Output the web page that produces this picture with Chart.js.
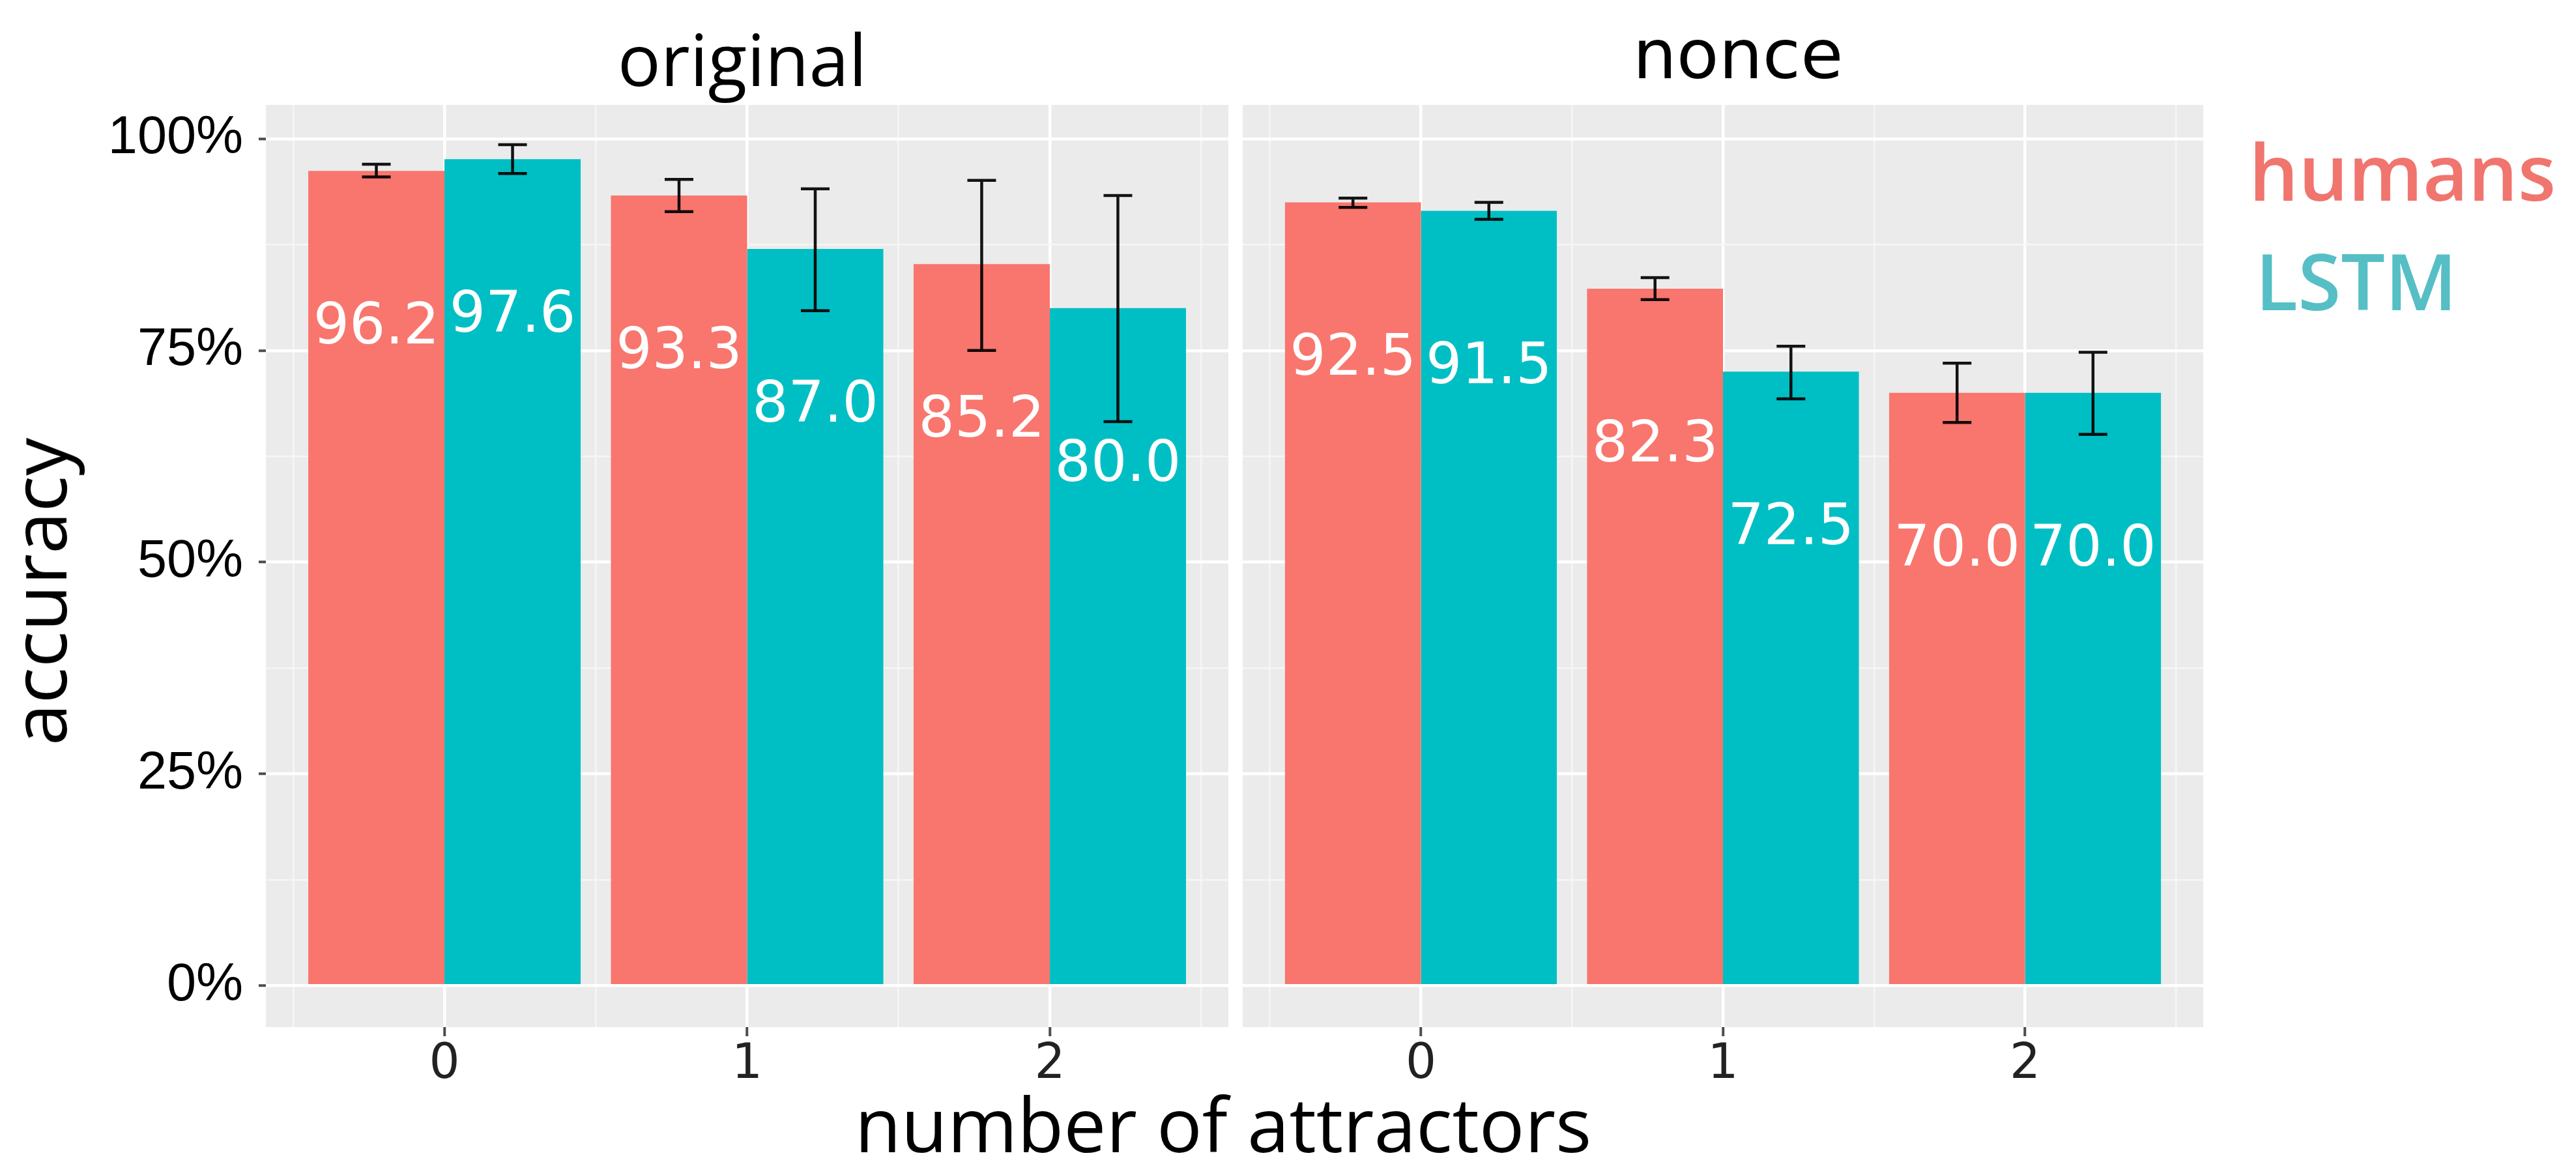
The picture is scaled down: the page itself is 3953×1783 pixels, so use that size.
<!DOCTYPE html>
<html>
<head>
<meta charset="utf-8">
<title>accuracy by number of attractors</title>
<script src="https://cdn.jsdelivr.net/npm/chart.js@4/dist/chart.umd.min.js"></script>
<style>
  html, body { margin: 0; padding: 0; background: #ffffff; }
  body { width: 3953px; height: 1783px; position: relative; overflow: hidden; }
  canvas { position: absolute; top: 0; }
  .txt { position: absolute; white-space: nowrap; line-height: 1; color: #000; }
  #titleOriginal { font: 400 110px "Open Sans"; left: 1139px; top: 14px; transform: translateX(-50%); }
  #titleNonce { font: 400 106px "DejaVu Sans"; left: 2667px; top: 22px; transform: translateX(-50%); }
  #axisY { font: 400 116px "Open Sans"; left: 57px; top: 908px; transform: translate(-50%, -50%) rotate(-90deg); }
  #axisX { font: 400 116px "Open Sans"; left: 1877px; top: 1644px; transform: translateX(-50%); }
  #legHumans { font: 600 120px "Open Sans"; left: 3451px; top: 180px; color: rgb(240, 117, 110); }
  #legLSTM { font: 600 120px "Open Sans"; left: 3461px; top: 348px; color: rgb(86, 191, 197); }
</style>
</head>
<body>
<canvas id="panelOriginal" width="1895" height="1783" style="left:0;width:1895px;height:1783px"></canvas>
<canvas id="panelNonce" width="2058" height="1783" style="left:1895px;width:2058px;height:1783px"></canvas>

<div class="txt" id="titleOriginal">original</div>
<div class="txt" id="titleNonce">nonce</div>
<div class="txt" id="axisY">accuracy</div>
<div class="txt" id="axisX">number of attractors</div>
<div class="txt" id="legHumans">humans</div>
<div class="txt" id="legLSTM">LSTM</div>

<script>
// number of attractors (x categories)
const categories = ['0', '1', '2'];

// accuracy (%) — "original" sentences
const originalHumans = [96.2, 93.3, 85.2];
const originalLSTM   = [97.6, 87.0, 80.0];
// accuracy (%) — "nonce" sentences
const nonceHumans = [92.5, 82.3, 70.0];
const nonceLSTM   = [91.5, 72.5, 70.0];

// error bar extents (%)
const originalHumansLow  = [95.5, 91.4, 75.0];
const originalHumansHigh = [97.0, 95.2, 95.1];
const originalLSTMLow    = [95.9, 79.7, 66.6];
const originalLSTMHigh   = [99.3, 94.1, 93.3];
const nonceHumansLow     = [91.9, 81.0, 66.5];
const nonceHumansHigh    = [93.0, 83.6, 73.5];
const nonceLSTMLow       = [90.5, 69.3, 65.1];
const nonceLSTMHigh      = [92.5, 75.5, 74.8];

// y axis ticks
const yTickValues = [0, 25, 50, 75, 100];
const yTickLabels = ['0%', '25%', '50%', '75%', '100%'];
const yMinorValues = [12.5, 37.5, 62.5, 87.5];
// x minor grid positions (between categories)
const xMinorValues = [-0.5, 0.5, 1.5, 2.5];

// ---- styling ----
const HUMANS_COLOR = '#F8766D';
const LSTM_COLOR = '#00BFC4';
const PANEL_BG = '#EBEBEB';
const Y_MIN = -4.9, Y_MAX = 104.0;
const X_MIN = -0.59, X_MAX = 2.59;
const LABEL_DROP = 265;   // px from bar top to label baseline
const CAP_HALF = 22;      // half width of error bar caps

const panelBackground = {
  id: 'panelBackground',
  beforeDraw(chart) {
    const { ctx, chartArea: a } = chart;
    ctx.save();
    ctx.fillStyle = PANEL_BG;
    ctx.fillRect(a.left, a.top, a.right - a.left, a.bottom - a.top);
    ctx.restore();
  }
};

const barExtras = {
  id: 'barExtras',
  afterDatasetsDraw(chart) {
    const { ctx } = chart;
    const yScale = chart.scales.y;
    chart.data.datasets.forEach((ds, di) => {
      const meta = chart.getDatasetMeta(di);
      meta.data.forEach((bar, i) => {
        const v = ds.data[i].y;
        ctx.save();
        // value label inside the bar
        ctx.font = '87px "DejaVu Sans"';
        ctx.fillStyle = '#ffffff';
        ctx.textAlign = 'center';
        ctx.textBaseline = 'alphabetic';
        ctx.fillText(v.toFixed(1), bar.x, bar.y + LABEL_DROP);
        // error bar
        const yl = yScale.getPixelForValue(ds.errLow[i]);
        const yh = yScale.getPixelForValue(ds.errHigh[i]);
        ctx.strokeStyle = 'rgba(0,0,0,0.92)';
        ctx.lineWidth = 4.5;
        ctx.beginPath();
        ctx.moveTo(bar.x, yl); ctx.lineTo(bar.x, yh);
        ctx.moveTo(bar.x - CAP_HALF, yl); ctx.lineTo(bar.x + CAP_HALF, yl);
        ctx.moveTo(bar.x - CAP_HALF, yh); ctx.lineTo(bar.x + CAP_HALF, yh);
        ctx.stroke();
        ctx.restore();
      });
    });
  }
};

const isMajorY = v => yTickValues.includes(v);
const isMajorX = v => Number.isInteger(v);

function points(values) {
  return values.map((v, i) => ({ x: i, y: v }));
}

function makePanel(canvasId, humans, lstm, hLow, hHigh, lLow, lHigh, withYAxis, padding) {
  return new Chart(document.getElementById(canvasId), {
    type: 'bar',
    data: {
      datasets: [
        { label: 'humans', data: points(humans), backgroundColor: HUMANS_COLOR, errLow: hLow, errHigh: hHigh },
        { label: 'LSTM', data: points(lstm), backgroundColor: LSTM_COLOR, errLow: lLow, errHigh: lHigh }
      ]
    },
    options: {
      responsive: false,
      animation: false,
      devicePixelRatio: 1,
      layout: { padding },
      // the bar ruler also sees the half-step minor ticks, so this gives 0.9 of a category
      categoryPercentage: 1.8,
      barPercentage: 1.0,
      borderWidth: 0,
      plugins: { legend: { display: false }, tooltip: { enabled: false }, title: { display: false } },
      scales: {
        x: {
          type: 'linear',
          min: X_MIN, max: X_MAX,
          offset: false,
          afterBuildTicks: s => {
            s.ticks = [...xMinorValues, 0, 1, 2].sort((a, b) => a - b).map(v => ({ value: v }));
          },
          afterFit: s => { s.height = 207; },
          ticks: {
            autoSkip: false, maxRotation: 0, minRotation: 0,
            padding: 0,
            color: '#222222',
            font: { family: 'DejaVu Sans', size: 74 },
            callback: v => isMajorX(v) ? categories[v] : ''
          },
          grid: {
            offset: false,
            color: ctx => isMajorX(ctx.tick.value) ? '#ffffff' : '#f6f6f6',
            lineWidth: ctx => isMajorX(ctx.tick.value) ? 4.5 : 2.5,
            tickLength: 14,
            tickWidth: 4,
            tickColor: ctx => isMajorX(ctx.tick.value) ? '#4d4d4d' : 'rgba(0,0,0,0)'
          },
          border: { display: false }
        },
        y: {
          min: Y_MIN, max: Y_MAX,
          afterBuildTicks: s => {
            s.ticks = [...yTickValues, ...yMinorValues].sort((a, b) => a - b).map(v => ({ value: v }));
          },
          afterFit: s => { s.width = withYAxis ? 408 : 0; },
          ticks: {
            display: withYAxis,
            autoSkip: false,
            padding: 24,
            color: '#000000',
            font: { family: 'Liberation Sans', size: 81 },
            callback: v => isMajorY(v) ? yTickLabels[yTickValues.indexOf(v)] : ''
          },
          grid: {
            color: ctx => isMajorY(ctx.tick.value) ? '#ffffff' : '#f6f6f6',
            lineWidth: ctx => isMajorY(ctx.tick.value) ? 4.5 : 2.5,
            drawTicks: withYAxis,
            tickLength: 11,
            tickWidth: 4,
            tickColor: ctx => isMajorY(ctx.tick.value) ? '#4d4d4d' : 'rgba(0,0,0,0)'
          },
          border: { display: false }
        }
      }
    },
    plugins: [panelBackground, barExtras]
  });
}

makePanel('panelOriginal', originalHumans, originalLSTM,
  originalHumansLow, originalHumansHigh, originalLSTMLow, originalLSTMHigh,
  true, { left: 0, top: 161, right: 10, bottom: 0 });

makePanel('panelNonce', nonceHumans, nonceLSTM,
  nonceHumansLow, nonceHumansHigh, nonceLSTMLow, nonceLSTMHigh,
  false, { left: 12, top: 161, right: 572, bottom: 0 });
</script>
</body>
</html>
